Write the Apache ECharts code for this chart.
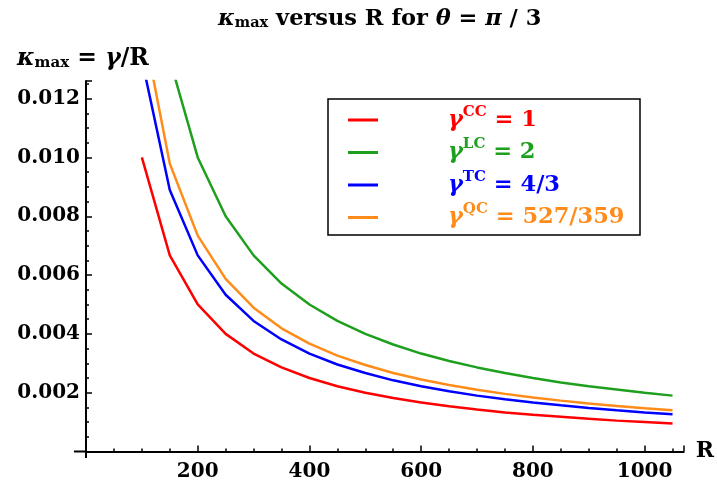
<!DOCTYPE html>
<html>
<head>
<meta charset="utf-8">
<script src="https://cdn.jsdelivr.net/npm/echarts@6/dist/echarts.min.js"></script>
<style>html,body{margin:0;padding:0;background:#fff}#c{width:717px;height:485px}</style>
</head>
<body>
<div id="c"></div>
<script>
// Data (kappa_max = gamma / R)
var R = [100,150,200,250,300,350,400,450,500,550,600,650,700,750,800,850,900,950,1000,1050];
var kCC = [0.0100,0.00667,0.00500,0.00400,0.00333,0.00286,0.00250,0.00222,0.00200,0.00182,0.00167,0.00154,0.00143,0.00133,0.00125,0.00118,0.00111,0.00105,0.00100,0.00095];
var kLC = [0.0200,0.01333,0.01000,0.00800,0.00667,0.00571,0.00500,0.00444,0.00400,0.00364,0.00333,0.00308,0.00286,0.00267,0.00250,0.00235,0.00222,0.00211,0.00200,0.00190];
var kTC = [0.01333,0.00889,0.00667,0.00533,0.00444,0.00381,0.00333,0.00296,0.00267,0.00242,0.00222,0.00205,0.00190,0.00178,0.00167,0.00157,0.00148,0.00140,0.00133,0.00127];
var kQC = [0.01468,0.00979,0.00734,0.00587,0.00489,0.00419,0.00367,0.00326,0.00294,0.00267,0.00245,0.00226,0.00210,0.00196,0.00184,0.00173,0.00163,0.00155,0.00147,0.00140];
var seriesNames = ['CC','LC','TC','QC'];
var seriesLabels = {CC:' = 1', LC:' = 2', TC:' = 4/3', QC:' = 527/359'};
var seriesColors = ['#ff0000','#1ea01e','#0000ff','#ff8c1a'];
var seriesData = [kCC,kLC,kTC,kQC];

var SERIF = '"DejaVu Serif", "Liberation Serif", serif';
function pairs(ys){ return R.map(function(r,i){ return [r, ys[i]]; }); }

var rich = {};
seriesNames.forEach(function(n,i){
  rich['g'+i] = {fontFamily:SERIF, fontSize:22.5, fontStyle:'italic', fontWeight:'bold', color:seriesColors[i]};
  rich['s'+i] = {fontFamily:SERIF, fontSize:15, fontWeight:'bold', color:seriesColors[i], padding:[0,0,16,0]};
  rich['t'+i] = {fontFamily:SERIF, fontSize:22.5, fontWeight:'bold', color:seriesColors[i]};
});

var chart = echarts.init(document.getElementById('c'), null, {renderer:'canvas'});
chart.setOption({
  animation:false,
  backgroundColor:'#fff',
  title:[{
    left:213, top:3,
    text:'{k|κ}{sub|max}{t| versus R for }{i|θ}{t| = }{i|π}{t| / 3}',
    textStyle:{rich:{
      k:{fontFamily:SERIF,fontSize:22.5,fontStyle:'italic',fontWeight:'bold',color:'#000'},
      sub:{fontFamily:SERIF,fontSize:14.5,fontWeight:'bold',color:'#000',padding:[8,0,0,0]},
      t:{fontFamily:SERIF,fontSize:22.5,fontWeight:'bold',color:'#000'},
      i:{fontFamily:SERIF,fontSize:22.5,fontStyle:'italic',fontWeight:'bold',color:'#000'}
    }}
  },{
    left:12, top:42,
    text:'{k|κ}{sub|max}{t| = }{i|γ}{t|/R}',
    textStyle:{rich:{
      k:{fontFamily:SERIF,fontSize:23.5,fontStyle:'italic',fontWeight:'bold',color:'#000'},
      sub:{fontFamily:SERIF,fontSize:15,fontWeight:'bold',color:'#000',padding:[8,0,0,0]},
      t:{fontFamily:SERIF,fontSize:23.5,fontWeight:'bold',color:'#000'},
      i:{fontFamily:SERIF,fontSize:23.5,fontStyle:'italic',fontWeight:'bold',color:'#000'}
    }}
  }],
  legend:{
    orient:'vertical', left:343, top:99,
    itemWidth:30, itemHeight:3, itemGap:0.5, icon:'rect',
    data:seriesNames.map(function(n,i){ return {name:n, itemStyle:{color:seriesColors[i]}}; }),
    formatter:function(name){
      var i = seriesNames.indexOf(name);
      return '{g'+i+'|γ}{s'+i+'|'+name+'}{t'+i+'|'+seriesLabels[name]+'}';
    },
    textStyle:{padding:[0,0,0,65], lineHeight:32, rich:rich}
  },
  grid:{left:86, right:32, top:81, bottom:33.5, containLabel:false},
  xAxis:{
    type:'value', min:0, max:1070, interval:200,
    name:'R', nameLocation:'end', nameGap:12,
    nameTextStyle:{fontFamily:SERIF, fontSize:22, fontWeight:'bold', color:'#000', verticalAlign:'middle'},
    axisLine:{show:true, lineStyle:{color:'#000', width:2}},
    axisTick:{show:true, inside:true, length:6, lineStyle:{color:'#000', width:1.5}},
    minorTick:{show:true, splitNumber:4, length:3, lineStyle:{color:'#000', width:1.5}},
    splitLine:{show:false},
    axisLabel:{showMinLabel:false, showMaxLabel:false, margin:10, fontFamily:SERIF, fontSize:20, fontWeight:'bold', color:'#000',
      formatter:function(v){ return String(v); }}
  },
  yAxis:{
    type:'value', min:0, max:0.0126, interval:0.002,
    axisLine:{show:true, lineStyle:{color:'#000', width:2}},
    axisTick:{show:true, inside:true, length:6, lineStyle:{color:'#000', width:1.5}},
    minorTick:{show:true, splitNumber:4, length:3, lineStyle:{color:'#000', width:1.5}},
    splitLine:{show:false},
    axisLabel:{showMinLabel:false, showMaxLabel:false, margin:6, fontFamily:SERIF, fontSize:20, fontWeight:'bold', color:'#000',
      formatter:function(v){ return v.toFixed(3); }}
  },
  graphic:[
    {type:'rect', shape:{x:328, y:99, width:312, height:136}, style:{fill:'none', stroke:'#000', lineWidth:1.5}, z:10},
    {type:'line', shape:{x1:74, y1:451.5, x2:86, y2:451.5}, style:{stroke:'#000', lineWidth:2}},
    {type:'line', shape:{x1:86, y1:451.5, x2:86, y2:458}, style:{stroke:'#000', lineWidth:2}}
  ],
  series:seriesNames.map(function(n,i){
    return {name:n, type:'line', data:pairs(seriesData[i]), showSymbol:false, symbol:'none', clip:true,
      lineStyle:{color:seriesColors[i], width:2.5}, itemStyle:{color:seriesColors[i]}};
  })
});
</script>
</body>
</html>
